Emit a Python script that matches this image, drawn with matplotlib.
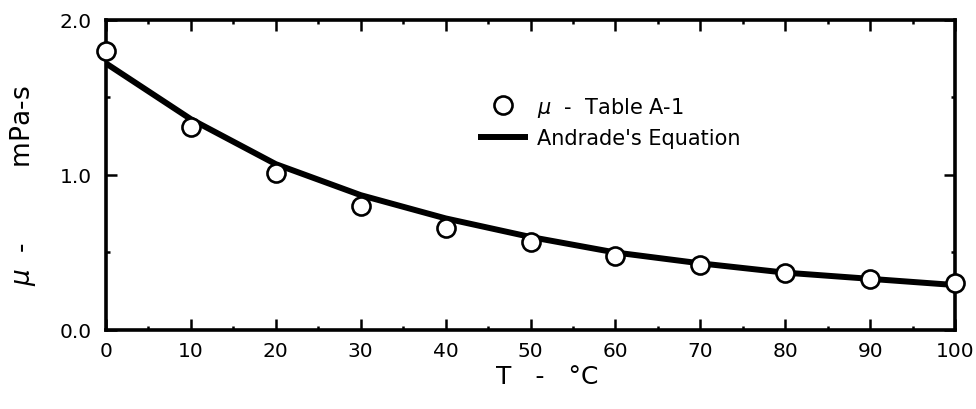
import matplotlib.pyplot as plt
from matplotlib.ticker import MultipleLocator

plt.rcParams['font.family'] = ['DejaVu Sans']

# data
temps = [0, 10, 20, 30, 40, 50, 60, 70, 80, 90, 100]
mu_table = [1.80, 1.31, 1.01, 0.80, 0.66, 0.57, 0.48, 0.42, 0.37, 0.33, 0.30]
mu_andrade = [1.72, 1.36, 1.07, 0.87, 0.72, 0.60, 0.50, 0.43, 0.37, 0.33, 0.29]

fig = plt.figure(figsize=(9.76, 4.10), dpi=100)
ax = fig.add_axes([0.1086, 0.1927, 0.8699, 0.7561])

line, = ax.plot(temps, mu_andrade, color='black', linewidth=4.3, solid_capstyle='butt', zorder=2)
pts, = ax.plot(temps, mu_table, 'o', markersize=13, markerfacecolor='white',
               markeredgecolor='black', markeredgewidth=1.9, linestyle='none',
               clip_on=False, zorder=3)

ax.set_xlim(0, 100)
ax.set_ylim(0, 2.0)
ax.xaxis.set_major_locator(MultipleLocator(10))
ax.xaxis.set_minor_locator(MultipleLocator(5))
ax.yaxis.set_major_locator(MultipleLocator(1.0))
ax.yaxis.set_minor_locator(MultipleLocator(0.5))
ax.yaxis.set_major_formatter(plt.FuncFormatter(lambda v, p: f'{v:.1f}'))

for s in ax.spines.values():
    s.set_linewidth(2.6)
ax.tick_params(which='major', direction='in', length=8, width=1.8,
               top=True, right=True, labelsize=14.5)
ax.tick_params(axis='x', which='major', pad=8)
ax.tick_params(axis='y', which='major', pad=10)
ax.tick_params(which='minor', direction='in', length=3, width=1.8,
               top=True, right=True)

ax.set_xlabel('T   -   °C', fontsize=18)
ax.xaxis.set_label_coords(0.52, -0.11)
ax.set_ylabel(r'$\mu$  -         mPa-s', fontsize=19)
ax.yaxis.set_label_coords(-0.08, 0.47)

leg = ax.legend([pts, line], [r'$\mu$  -  Table A-1', "Andrade's Equation"],
                loc='upper left', bbox_to_anchor=(0.4156, 0.82), frameon=False,
                fontsize=15, handlelength=2.4, handletextpad=0.45, labelspacing=0.45)

fig.savefig('out.png', dpi=100)
